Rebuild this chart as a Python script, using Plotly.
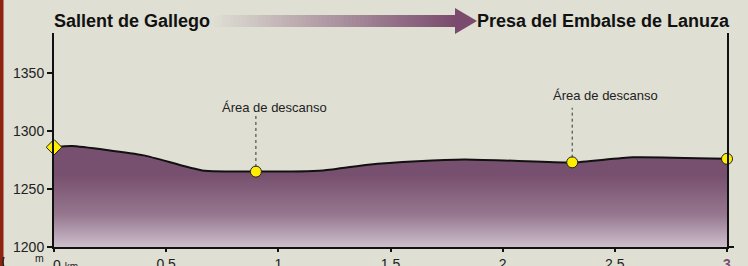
import plotly.graph_objects as go

# ---- data ----
dist_km = [0, 0.08, 0.40, 0.66, 0.90, 1.20, 1.40, 1.62, 1.83, 2.05, 2.31, 2.58, 3.0]
elev_m = [1286, 1287, 1279, 1266, 1265, 1266, 1271, 1274, 1275.5, 1274.3, 1272.8, 1277.3, 1276]

wp_dist = [0.90, 2.31]
wp_elev = [1265, 1273]
wp_label = ["Área de descanso", "Área de descanso"]

start_dist, start_elev = [0], [1286]
end_dist, end_elev = [3.0], [1276]

y_ticks = [1200, 1250, 1300, 1350]
x_ticks = [0, 0.5, 1, 1.5, 2, 2.5, 3]
x_ticktext = ["", "0.5", "1", "1.5", "2", "2.5", "<span style='color:#7d4c72'><b>3</b></span>"]

origin_name = "Sallent de Gallego"
dest_name = "Presa del Embalse de Lanuza"

# ---- styling ----
BG = "#dfdfd3"
W, H = 748, 266
L, R, T, B = 54, 21, 33, 19
PW, PH = W - L - R, H - T - B
Y0, Y1 = 1200, 1200 + PH / 1.16
FONT = "Liberation Sans, Arial, sans-serif"


def px_to_paper_x(px):
    return (px - L) / PW


def px_to_paper_y(py):
    return (H - B - py) / PH


fig = go.Figure()

fig.add_trace(go.Scatter(
    x=dist_km, y=elev_m, mode="lines",
    line=dict(color="#111111", width=2, shape="spline", smoothing=0.5),
    fill="tozeroy",
    fillgradient=dict(type="vertical", start=1200, stop=1262,
                      colorscale=[[0, "#cdbfcc"], [0.45, "#96778f"], [1, "#78506f"]]),
    hoverinfo="skip", showlegend=False,
))

fig.add_trace(go.Scatter(
    x=start_dist, y=start_elev, mode="markers", cliponaxis=False,
    marker=dict(symbol="diamond", size=12, color="#ffee00", line=dict(color="#222", width=1)),
    showlegend=False,
))
fig.add_trace(go.Scatter(
    x=wp_dist + end_dist, y=wp_elev + end_elev, mode="markers", cliponaxis=False,
    marker=dict(symbol="circle", size=11, color="#ffee00", line=dict(color="#222", width=1)),
    showlegend=False,
))

shapes = []
annotations = []

# dotted connectors + labels
label_pos = [(0.985, 1320.5, 1313.5), (2.46, 1330.5, 1320)]
for (lx, ly, ltop), d, e, txt in zip(label_pos, wp_dist, wp_elev, wp_label):
    shapes.append(dict(type="line", xref="x", yref="y", x0=d, x1=d, y0=e + 4, y1=ltop,
                       line=dict(color="#333", width=1, dash="dot")))
    annotations.append(dict(x=lx, y=ly, xref="x", yref="y", text=txt, showarrow=False,
                            font=dict(family=FONT, size=13, color="#222")))

# gradient arrow (decoration)
ax0, ax1 = 214, 456
n = 60
bg_rgb = (0xdf, 0xdf, 0xd3)
pu_rgb = (0x7a, 0x4b, 0x6e)
for i in range(n):
    t = (i + 0.5) / n
    c = tuple(int(bg_rgb[k] + (pu_rgb[k] - bg_rgb[k]) * t) for k in range(3))
    xa = ax0 + (ax1 - ax0) * i / n
    xb = ax0 + (ax1 - ax0) * (i + 1) / n + 0.6
    shapes.append(dict(type="rect", xref="paper", yref="paper",
                       x0=px_to_paper_x(xa), x1=px_to_paper_x(xb),
                       y0=px_to_paper_y(27), y1=px_to_paper_y(15),
                       fillcolor="rgb(%d,%d,%d)" % c, line=dict(width=0), layer="above"))
hx0, hx1 = 455, 477
path = "M %f %f L %f %f L %f %f Z" % (
    px_to_paper_x(hx0), px_to_paper_y(8), px_to_paper_x(hx1), px_to_paper_y(21),
    px_to_paper_x(hx0), px_to_paper_y(34))
shapes.append(dict(type="path", xref="paper", yref="paper", path=path,
                   fillcolor="#7a4b6e", line=dict(width=0), layer="above"))

# small extension of the baseline past the end
shapes.append(dict(type="line", xref="paper", yref="paper",
                   x0=1.0, x1=px_to_paper_x(734), y0=0, y1=0,
                   line=dict(color="#111", width=2), layer="above"))

# left red border + corner curve
shapes.append(dict(type="rect", xref="paper", yref="paper",
                   x0=px_to_paper_x(-2), x1=px_to_paper_x(3.5),
                   y0=px_to_paper_y(H + 2), y1=px_to_paper_y(-2),
                   fillcolor="#8e2410", line=dict(width=0), layer="above"))
corner = "M %f %f Q %f %f %f %f" % (
    px_to_paper_x(4), px_to_paper_y(257), px_to_paper_x(2), px_to_paper_y(262),
    px_to_paper_x(4), px_to_paper_y(267))
shapes.append(dict(type="path", xref="paper", yref="paper", path=corner,
                   line=dict(color="#222", width=1.5), layer="above"))

# titles
annotations.append(dict(x=px_to_paper_x(52), y=px_to_paper_y(21.5), xref="paper", yref="paper",
                        text="<b>%s</b>" % origin_name, showarrow=False, xanchor="left", yanchor="middle",
                        font=dict(family=FONT, size=18, color="#111")))
annotations.append(dict(x=px_to_paper_x(732), y=px_to_paper_y(21.5), xref="paper", yref="paper",
                        text="<b>%s</b>" % dest_name, showarrow=False, xanchor="right", yanchor="middle",
                        font=dict(family=FONT, size=18, color="#111")))
# unit labels
annotations.append(dict(x=px_to_paper_x(39), y=px_to_paper_y(258), xref="paper", yref="paper",
                        text="m", showarrow=False, xanchor="center", yanchor="middle",
                        font=dict(family=FONT, size=10.5, color="#222")))
annotations.append(dict(x=px_to_paper_x(51), y=px_to_paper_y(265), xref="paper", yref="paper",
                        text="0 <span style='font-size:10px'>km</span>", showarrow=False, xanchor="left",
                        yanchor="middle", font=dict(family=FONT, size=14, color="#222")))

fig.update_layout(
    width=W, height=H,
    margin=dict(l=L, r=R, t=T, b=B, pad=0, autoexpand=False),
    paper_bgcolor=BG, plot_bgcolor=BG,
    shapes=shapes, annotations=annotations,
    font=dict(family=FONT, size=14, color="#222"),
    xaxis=dict(range=[0, 3], tickvals=x_ticks, ticktext=x_ticktext, showgrid=False, zeroline=False,
               showline=True, linecolor="#111", linewidth=2, ticks="outside", ticklen=3,
               tickwidth=1.5, tickcolor="#111", tickfont=dict(size=14), automargin=False),
    yaxis=dict(range=[Y0, Y1], tickvals=y_ticks, showgrid=False, zeroline=False,
               showline=True, mirror=True, linecolor="#111", linewidth=2, ticks="outside",
               ticklen=5, tickwidth=2, tickcolor="#111", tickfont=dict(size=14), automargin=False),
)

fig.write_html(
    "out.html",
    config={"displayModeBar": False},
    post_script="document.body.style.margin='0';document.body.style.overflow='hidden';"
                "document.body.style.background='%s';" % BG,
)
